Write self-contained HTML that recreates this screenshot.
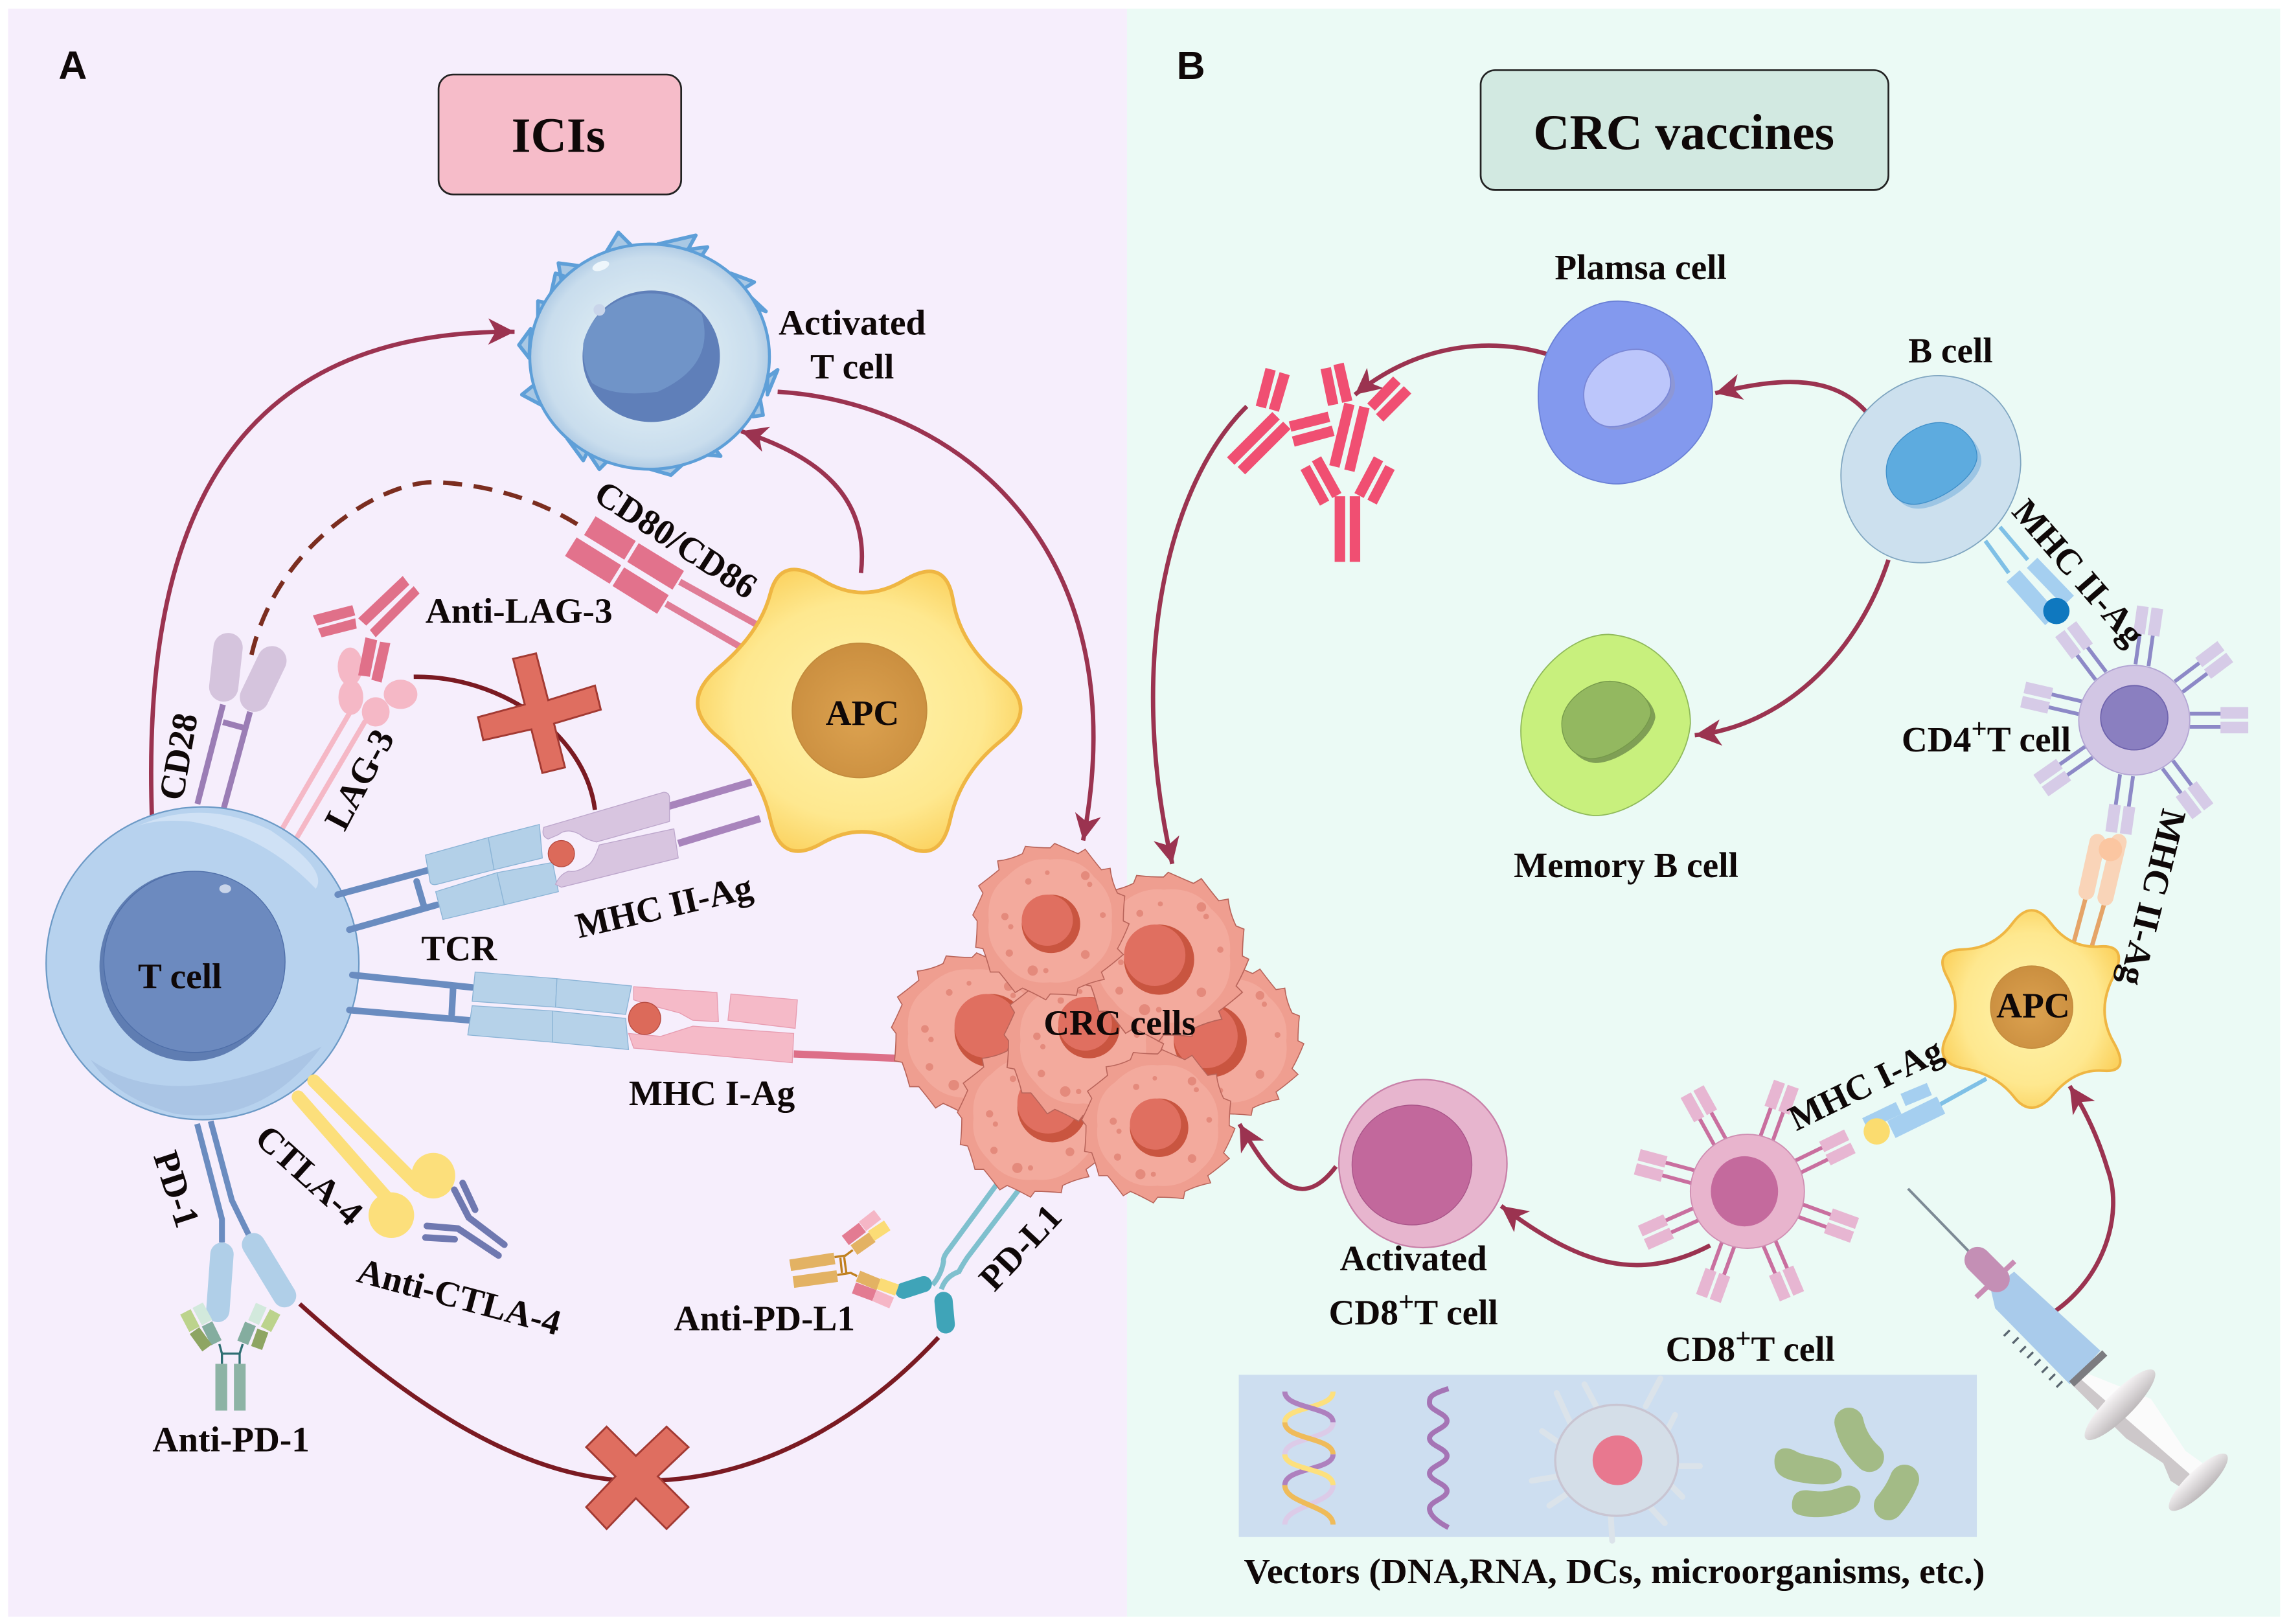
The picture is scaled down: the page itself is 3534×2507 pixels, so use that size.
<!DOCTYPE html>
<html><head><meta charset="utf-8"><title>ICIs and CRC vaccines</title>
<style>
html,body{margin:0;padding:0;background:#fff}
svg{display:block}
text{font-family:"Liberation Serif",serif;font-weight:bold;fill:#0f0808;font-size:24.5px}
</style></head><body>
<svg xmlns="http://www.w3.org/2000/svg" width="3534" height="2507" viewBox="0 0 1566 1111">
<defs>
<marker id="ar" markerUnits="userSpaceOnUse" markerWidth="22" markerHeight="20" refX="18" refY="9" orient="auto"><path d="M18 9L0 0L5 9L0 18Z" fill="#9b3350"/></marker>
<radialGradient id="yel" cx="50%" cy="50%" r="55%"><stop offset="0" stop-color="#fff3ad"/><stop offset=".7" stop-color="#fee88f"/><stop offset="1" stop-color="#fbd25f"/></radialGradient>
<radialGradient id="org" cx="50%" cy="55%" r="60%"><stop offset="0" stop-color="#dca250"/><stop offset="1" stop-color="#c98d3e"/></radialGradient>
<radialGradient id="atc" cx="50%" cy="50%" r="52%"><stop offset=".55" stop-color="#d5e6f1"/><stop offset=".85" stop-color="#c9dded"/><stop offset="1" stop-color="#a9c6e2"/></radialGradient>
<linearGradient id="fl" x1="0" y1="0" x2="0" y2="1"><stop offset="0" stop-color="#f7f5f6"/><stop offset="1" stop-color="#bdb8ba"/></linearGradient>
<g id="crc">
<path d="M50 0L54 2Q50 12 46 19L50 23Q42 30 35 35L37 40Q27 42 19 46L18 51Q9 50 0 50L-3 54Q-12 49 -19 46L-24 49Q-30 41 -35 35L-41 35Q-43 27 -46 19L-51 18Q-50 9 -50 0L-53 -4Q-49 -12 -46 -19L-49 -24Q-41 -30 -35 -35L-36 -41Q-27 -42 -19 -46L-17 -51Q-8 -50 0 -50L3 -53Q12 -49 19 -46L24 -49Q30 -41 35 -35L41 -36Q42 -27 46 -19L51 -17Q50 -8 50 0Z" fill="#ef9e90" stroke="#b8645a" stroke-width=".7"/>
<path d="M42 0Q44 18 32 29Q18 44 0 42Q-20 44 -32 28Q-44 16 -42 0Q-44 -20 -30 -30Q-16 -44 0 -42Q20 -44 30 -30Q44 -18 42 0Z" fill="#f3aa9d"/>
<g fill="#e48a7c"><circle cx="-31" cy="-3" r="2.5"/><circle cx="-27" cy="4" r="1.8"/><circle cx="-12" cy="34" r="3.5"/><circle cx="-3" cy="34" r="1.8"/><circle cx="24" cy="23" r="3"/><circle cx="24" cy="-31" r="3"/><circle cx="27" cy="-25" r="1.8"/><circle cx="-28" cy="22" r="2.5"/><circle cx="-15" cy="-27" r="2.2"/><circle cx="-2" cy="-33" r="1.6"/><circle cx="36" cy="-4" r="2"/></g>
</g>
<g id="nuc"><circle r="20" fill="#c95540"/><circle cx="-2.5" cy="-2.5" r="17.5" fill="#e06f60"/></g>
<g id="arm4"><path d="M38 -4.5H60M38 4.5H60" stroke="#8d89c7" stroke-width="2.6"/><rect x="59" y="-9" width="19" height="8" fill="#d6cbe7"/><rect x="59" y="1" width="19" height="8" fill="#d6cbe7"/></g>
<g id="arm8"><path d="M38 -4.5H60M38 4.5H60" stroke="#c96f9f" stroke-width="2.6"/><rect x="59" y="-9" width="19" height="8" fill="#e7b6d2"/><rect x="59" y="1" width="19" height="8" fill="#e7b6d2"/></g>
</defs>

<rect width="1566" height="1111" fill="#fff"/>
<rect x="5.500" y="6" width="766" height="1100" fill="#f6eefc"/>
<rect x="771" y="6" width="789" height="1100" fill="#ebfaf5"/>

<text x="40" y="54" style="font-family:'Liberation Sans',sans-serif;font-size:27px">A</text>
<text x="805" y="54" style="font-family:'Liberation Sans',sans-serif;font-size:27px">B</text>
<rect x="300" y="51" width="166" height="82" rx="10" fill="#f6bcc9" stroke="#222" stroke-width="1.2"/>
<text x="382" y="104" text-anchor="middle" style="font-size:34px">ICIs</text>
<rect x="1013" y="48" width="279" height="82" rx="10" fill="#d2e9e1" stroke="#222" stroke-width="1.2"/>
<text x="1152" y="102" text-anchor="middle" style="font-size:34.5px">CRC vaccines</text>

<!-- arrows beneath -->
<g fill="none" stroke="#9b3350" stroke-width="3">
<path d="M104 562C98 400 130 225 352 227" marker-end="url(#ar)"/>
<path d="M589 392C595 340 560 312 507 295" marker-end="url(#ar)"/>
<path d="M532 268C650 275 780 370 741 575" marker-end="url(#ar)"/>
<path d="M853 278C800 330 770 450 802 591" marker-end="url(#ar)"/>
<path d="M1061 243C1020 230 970 235 927 270" marker-end="url(#ar)"/>
<path d="M1281 287C1258 255 1218 258 1173.500 269" marker-end="url(#ar)"/>
<path d="M1292 383C1270 450 1218 497 1159.500 503" marker-end="url(#ar)"/>
<path d="M1403 899C1440 875 1453 830 1442 800C1436 780 1427 760 1416 743" marker-end="url(#ar)"/>
<path d="M1170 852C1120 878 1080 865 1027 825" marker-end="url(#ar)"/>
<path d="M914 798C890 830 870 808 848 769" marker-end="url(#ar)"/>
</g>
<path d="M172 448C190 370 265 327 300 330C340 332 375 345 400 362" fill="none" stroke="#7b2d1f" stroke-width="3" stroke-dasharray="13 8"/>
<path d="M283 463C340 462 400 500 407 554" fill="none" stroke="#7a1a22" stroke-width="3"/>
<path d="M205 892C280 960 360 1015 440 1013C530 1013 600 960 642 915" fill="none" stroke="#7a1a22" stroke-width="3"/>

<!-- CD28 -->
<path d="M135 550L152.500 482M152.500 555L171 487M152.500 494L167 498" stroke="#9b7db5" stroke-width="4" fill="none"/>
<path d="M156 443L153 470M186 452L174 477" stroke="#d5c4dd" stroke-width="20" stroke-linecap="round"/>
<!-- LAG-3 -->
<path d="M193 567L239 488M203 573L250 493" stroke="#f5b8c6" stroke-width="3.500" fill="none"/>
<g fill="#f5b8c6"><ellipse cx="239.500" cy="456" rx="8.500" ry="13"/><ellipse cx="240" cy="477" rx="8.500" ry="12"/><ellipse cx="257" cy="487" rx="9.500" ry="10"/><ellipse cx="274" cy="475" rx="11.500" ry="10"/></g>
<g fill="#e07089"><path d="M214 421L241 414L243 421L217 428Z"/><path d="M217.500 430L243 423L244 430L220 436Z"/><path d="M245 423L275.500 394L280 400L250.500 428Z"/><path d="M253 431L283 401L287 406L257 436Z"/><path d="M250 436L258 438L253 463L245 462Z"/><path d="M260 439L267 440L261 467L254 465Z"/></g>
<!-- T cell -->
<ellipse cx="138.500" cy="659" rx="107" ry="107" fill="#b7d2ee" stroke="#6c9ac6" stroke-width="1"/>
<path d="M92 566Q138 545 185 568Q225 595 216 608Q180 570 130 562Q105 560 92 566Z" fill="#cfe1f5"/>
<path d="M62 725Q120 765 220 716Q180 770 120 762Q80 752 62 725Z" fill="#aac5e5"/>
<ellipse cx="130" cy="661" rx="62" ry="65" fill="#5f7db2"/>
<ellipse cx="133" cy="658" rx="62" ry="62" fill="#6c8abf" stroke="#4e6ea8" stroke-width=".6"/>
<ellipse cx="154" cy="608" rx="4" ry="3" fill="#c9d5ea"/>
<!-- TCR upper -->
<path d="M231 612L294 595M239 636L299 619M285 603L290 620" stroke="#6a8cc0" stroke-width="4.500" fill="none" stroke-linecap="round"/>
<g fill="#b3d0e8" stroke="#8bb4d6" stroke-width=".6"><path d="M291 585L334 573L338 595L299 605Q294 606 294 602Z"/><path d="M334 573L369 564L371 587L338 595Z"/><path d="M298 610L340 597L345 619L303 629Z"/><path d="M340 597L378 590L382 610L345 619Z"/></g>
<!-- MHC II left -->
<path d="M456 552L514 535M464 577L520 560" stroke="#a884bc" stroke-width="5" fill="none"/>
<g fill="#d8c5e0" stroke="#bda7cc" stroke-width=".6"><path d="M372 566L454 542Q458 542 458 546L458 562L408 576Q400 574 397 571Q388 566 382 571L375 574Q370 572 372 566Z"/><path d="M380 605L384 607L464 587L461 567L410 578Q406 590 402 592Q395 597 389 596Q383 598 380 605Z"/></g>
<circle cx="384" cy="584" r="9" fill="#dc6a5a" stroke="#b64a40" stroke-width=".6"/>
<!-- TCR lower -->
<path d="M241 667L323 675.500M239 691L321 698M310 675L309 694" stroke="#6a8cc0" stroke-width="4.500" fill="none" stroke-linecap="round"/>
<g fill="#b6d2e9" stroke="#8bb4d6" stroke-width=".6"><path d="M325 665L381 669.500L380 689L323 685Z"/><path d="M381 669.500L432 674.500L428 694L380 689Z"/><path d="M323 688L378 691.600L378 713L320 708Z"/><path d="M378 691.600L428 696.700L430 718L378 713Z"/></g>
<g fill="#f5bac8" stroke="#e79cb0" stroke-width=".6"><path d="M433.500 675L490.500 679L491.500 699L474 698L465 693L446 688L433.500 684Z"/><path d="M500 680L545.500 684L544 703.500L498 698Z"/><path d="M430 707L452 709L474 702L543 707L542 727L433.500 717Z"/></g>
<path d="M543 721L614 724" stroke="#dd6f88" stroke-width="5"/>
<circle cx="441" cy="696.700" r="11" fill="#dc6a5a" stroke="#b64a40" stroke-width=".6"/>
<!-- CD80/86 -->
<path d="M465 398L519 428M455.600 413L510.700 445" stroke="#e07c96" stroke-width="4.500"/>
<path d="M403.500 359.600L431 376.500M433 378L464 397M390.500 374L421 393M423 394.500L453.500 413.500" stroke="#e2728c" stroke-width="15"/>
<!-- APC -->
<path d="M618.500 397Q647 380 652 410.500Q657 441 684.500 463Q712 485 684.500 507Q657 529 650 561Q643 593 616.500 577Q590 561 562 577Q534 593 527 560.500Q520 528 491.500 504.500Q463 481 491.500 457Q520 433 527 406Q534 379 562 396.500Q590 414 618.500 397Z" fill="url(#yel)" stroke="#efb643" stroke-width="2.500"/>
<circle cx="588" cy="486" r="46" fill="url(#org)" stroke="#c28a3c" stroke-width=".8"/>
<!-- Activated T cell -->
<path d="M415 172L423 159L432 168ZM450 167L476 161L470 172ZM468 171L484 169L480 175ZM500 187L516 193L508 198ZM508 198L524 213L515 210ZM525 258L532 253L525 270ZM518 262L522 284L515 285ZM470 310L493 312L485 302ZM445 321L459 325L470 315ZM402 309L410 321L416 315ZM388 300L399 315L402 309ZM367 262L357 270L372 278ZM363 225L355 236L362 245ZM368 222L368 206L378 208ZM376 205L380 187L395 192ZM385 198L382 180L405 183Z" fill="#a9c8e4" stroke="#5e9fd8" stroke-width="2.500" stroke-linejoin="round"/>
<ellipse cx="444.400" cy="244" rx="82" ry="77" fill="url(#atc)" stroke="#5e9fd8" stroke-width="2"/>
<ellipse cx="445.500" cy="243.700" rx="47" ry="45" fill="#5f7fb9"/>
<path d="M399 235A47 43 0 0 1 480 215Q490 250 450 268Q420 272 405 262Q398 250 399 235Z" fill="#7094c8"/>
<circle cx="410" cy="212" r="4" fill="#c9d5ea"/>
<ellipse cx="411" cy="182" rx="6" ry="3" fill="#eef6fb" transform="rotate(-20 411 182)"/>
<!-- X marks -->
<g fill="#df6e60" stroke="#a33a33" stroke-width="1.300">
<path d="M351 450.700L366.700 447L375 479L407 469L411 485.500L379 495L386.500 525L371 528.800L363.500 499L330.600 506.400L327 490.600L359 482Z"/>
<path d="M415 976L435 996L456 976L471 990L450 1010L471 1031L456 1046L435 1025L415 1046L401 1031L421 1010L401 990Z"/>
</g>
<!-- CTLA-4 -->
<path d="M214.700 739.500L286 811M204 750.500L270.900 826.700" stroke="#fcdf7b" stroke-width="9" stroke-linecap="round" fill="none"/>
<ellipse cx="296.400" cy="804.300" rx="15" ry="15.600" fill="#fcdf7b"/><circle cx="267.700" cy="831.300" r="15.600" fill="#fcdf7b"/>
<path d="M316.500 809.300L325 827.600M310.800 813.900L320.700 833L345 851.500M292 838.700L313.300 840.500L341 858.900M291 846.600L311 847.800" fill="none" stroke="#6f78b0" stroke-width="4.500" stroke-linecap="round"/>
<!-- PD-1 -->
<path d="M134.800 768.900L151.800 834V850M144.100 767L158.600 821.200L170.200 845" fill="none" stroke="#6b8cc0" stroke-width="4"/>
<path d="M151.800 858L149 896.500M173.400 851.500L194.600 886.400" stroke="#b0cfe8" stroke-width="16" stroke-linecap="round"/>
<!-- Anti-PD-1 -->
<path d="M150 919.500L151.800 926V933M166 919.500L163.900 926V933M151.800 926H163.900" fill="none" stroke="#2f6f73" stroke-width="1.500"/>
<rect x="147.300" y="933" width="8.100" height="32" fill="#8db3a5"/><rect x="160" y="933" width="8" height="32" fill="#8db3a5"/>
<g stroke-width="8"><path d="M141.600 905.700L148 918.600M171.300 905.700L166 918.600" stroke="#84ad9f"/><path d="M133 910.300L141.600 922.200M179.800 910.300L175.500 922.200" stroke="#8ea563"/><path d="M135.200 892.900L141.600 904.800M178.700 892.900L173.400 904.800" stroke="#d2e9dc"/><path d="M126.800 897.500L133 909.400M188.200 897.500L181.900 909.400" stroke="#bcd38c"/></g>
<!-- PD-L1 -->
<path d="M685 806L649 855Q645 860 645.500 863Q644 872 638 879M697 814L662 860Q658 866 656 870Q647 873 644 882" fill="none" stroke="#7fc0ce" stroke-width="3.500"/>
<path d="M618 883L632 878.500" stroke="#3fa4b8" stroke-width="11" stroke-linecap="round"/>
<path d="M645.500 890L647 906" stroke="#3fa4b8" stroke-width="12.500" stroke-linecap="round"/>
<!-- Anti-PD-L1 -->
<path d="M570.900 860L578.300 859L583.400 855.200M572.800 872.200L582 870.800L586.400 873M574.900 860.400L576 870.800M577.500 860L579 870.800" fill="none" stroke="#c0801f" stroke-width="1.500"/>
<g stroke-width="8"><path d="M540.600 865.600L570.900 860.900M542.800 877.100L572.800 873M584.200 855.200L596.700 846.400M587 873L601.200 878.900" stroke="#e3b263"/><path d="M596 845.600L607 838.300M601.200 878.100L613.700 882.600" stroke="#fbdc76"/><path d="M578.300 848.600L590 839.700M584.200 881.100L598.200 886.300" stroke="#e37b92"/><path d="M590 839L600.400 830.900M598.200 886.300L610 891.400" stroke="#f5b6c6"/></g>

<!-- CRC cells -->
<use href="#crc" transform="translate(838 712) scale(1)"/><use href="#nuc" transform="translate(828 712) scale(1.250)"/>
<use href="#crc" transform="translate(665 707) scale(1.040)"/><use href="#nuc" transform="translate(678 705) scale(1.250)"/>
<use href="#crc" transform="translate(708 765) scale(1)"/><use href="#nuc" transform="translate(720 757.500) scale(1.200)"/>
<use href="#crc" transform="translate(741 712) scale(1.020)"/><use href="#nuc" transform="translate(745 703) scale(1.050)"/>
<use href="#crc" transform="translate(796 654) scale(1.080)"/><use href="#nuc" transform="translate(793 656.500) scale(1.200)"/>
<use href="#crc" transform="translate(718.500 630) scale(1)"/><use href="#nuc" transform="translate(719 632) scale(1)"/>
<use href="#crc" transform="translate(792 770) scale(.98)"/><use href="#nuc" transform="translate(793 771.500) scale(1)"/>

<!-- antibodies red -->
<g stroke="#f04f72" stroke-width="7.200" fill="none">
<path d="M916.700 339.500V384.400M927 339.500V384.400M892.900 319.800L906.200 344.200M900.700 313.900L914.600 339M938.700 343.500L951 319.800M929.800 339L943.100 313.900"/>
<path d="M923.200 276.300L912.900 319.100M933.500 278.500L923.200 322M882.600 291.800L909.200 285.100M884.800 302.100L912.100 294.700M907 251.900L912.100 277M915.800 248.900L921.700 274.800M955.700 260L938 278.500M963 266.700L943.900 285.900"/>
<path d="M873 284.400L842 315.400M880.400 291L849.300 322M869.300 252.600L862.600 278.500M878.900 255.600L871.500 280.700"/>
</g>
<!-- Plasma -->
<g transform="translate(-1.500 0)">
<path d="M1054 275C1052 235 1080 205 1110 206C1150 208 1175 240 1173 275C1170 310 1130 332 1105 331C1075 328 1056 310 1054 275Z" fill="#8399ee" stroke="#6a80d6" stroke-width=".8"/>
<path d="M1088 272C1088 254 1108 240 1126 241C1145 243 1149 260 1147 268C1143 282 1121 294 1106 294C1095 293 1088 284 1088 272Z" fill="#8d97d6"/>
<path d="M1085 270C1085 252 1105 238 1123 239C1142 241 1146 258 1144 266C1140 280 1118 292 1103 292C1092 291 1085 282 1085 270Z" fill="#bcc6fb" stroke="#7a87d6" stroke-width=".8"/>
</g>
<!-- B cell -->
<g transform="translate(-2.500 0)">
<path d="M1262 325C1262 285 1300 256 1330 257C1365 258 1385 285 1385 318C1383 360 1345 385 1317 385C1285 385 1262 360 1262 325Z" fill="#cce0ee" stroke="#7fa5c0" stroke-width=".8"/>
<path d="M1296 325C1296 308 1315 292 1333 292C1351 293 1359 308 1358 317C1355 333 1328 348 1315 348C1303 348 1296 338 1296 325Z" fill="#9cc5e4"/>
<path d="M1293 322C1293 305 1312 289 1330 289C1348 290 1356 305 1355 314C1352 330 1325 345 1312 345C1300 345 1293 335 1293 322Z" fill="#5dabdf" stroke="#3f8fc9" stroke-width=".6"/>
</g>
<!-- Memory -->
<g transform="translate(-1.500 0)">
<path d="M1042 500C1042 465 1075 434 1102 434C1135 436 1158 465 1158 495C1155 530 1120 558 1092 558C1065 555 1042 535 1042 500Z" fill="#c8f07d" stroke="#8fb95a" stroke-width=".8"/>
<path d="M1073 498C1073 483 1091 469 1106 469C1125 470 1134 483 1134 491C1131 506 1108 522 1093 522C1081 521 1073 511 1073 498Z" fill="#7f9f55"/>
<path d="M1070 495C1070 480 1088 466 1103 466C1122 467 1131 480 1131 488C1128 503 1105 519 1090 519C1078 518 1070 508 1070 495Z" fill="#93b860" stroke="#75994a" stroke-width=".6"/>
</g>
<!-- MHC II B side -->
<g transform="translate(-3.700 0)">
<path d="M1362 370L1378 392M1372 360.500L1391 383" stroke="#7fc0e6" stroke-width="2.800"/>
<path d="M1381 394L1407.400 423.700" stroke="#a5cff0" stroke-width="12"/><path d="M1394 385L1419 411" stroke="#a5cff0" stroke-width="10"/>
</g>
<!-- CD4 -->
<g transform="translate(1460.200 492.700)"><use href="#arm4"/><use href="#arm4" transform="rotate(53)"/><use href="#arm4" transform="rotate(98)"/><use href="#arm4" transform="rotate(145)"/><use href="#arm4" transform="rotate(193)"/><use href="#arm4" transform="rotate(233)"/><use href="#arm4" transform="rotate(278)"/><use href="#arm4" transform="rotate(323)"/></g>
<circle cx="1406.900" cy="418" r="9" fill="#0f78bf"/>
<ellipse cx="1460.200" cy="492.700" rx="38" ry="37.500" fill="#d2c6e4" stroke="#b3a5d3" stroke-width=".8"/>
<ellipse cx="1460.200" cy="491" rx="23" ry="22" fill="#8a7fc0" stroke="#6f64ad" stroke-width=".8"/>
<!-- APC to CD4 -->
<path d="M1426.900 614.400L1418.800 644.700M1439.900 617.400L1431.300 646.900" stroke="#e5a468" stroke-width="3"/>
<path d="M1435 576L1427.500 610M1449.500 576L1440.500 614" stroke="#f9d4b8" stroke-width="11" stroke-linecap="round"/>
<circle cx="1443.900" cy="581.200" r="8" fill="#fbc6a1"/>
<!-- small APC -->
<g transform="translate(-4 0)">
<path d="M1407 631.500Q1420 649 1440.500 647.500Q1461 646 1449.500 669Q1438 692 1450 713Q1462 734 1443 732.500Q1424 731 1409 748.500Q1394 766 1382 750.500Q1370 735 1348 731Q1326 727 1336.500 707.500Q1347 688 1336.500 669Q1326 650 1347 649.500Q1368 649 1381 631.500Q1394 614 1407 631.500Z" fill="url(#yel)" stroke="#efb643" stroke-width="1.800"/>
<circle cx="1394" cy="689" r="28.200" fill="url(#org)" stroke="#c28a3c" stroke-width=".6"/>
</g>
<!-- CD8 -->
<g transform="translate(1195.500 815)"><use href="#arm8" transform="rotate(241)"/><use href="#arm8" transform="rotate(290)"/><use href="#arm8" transform="rotate(334)"/><use href="#arm8" transform="rotate(20)"/><use href="#arm8" transform="rotate(67)"/><use href="#arm8" transform="rotate(110)"/><use href="#arm8" transform="rotate(156)"/><use href="#arm8" transform="rotate(195)"/></g>
<circle cx="1195.500" cy="815" r="39" fill="#e8b4cd" stroke="#cf8eb2" stroke-width=".8"/>
<ellipse cx="1193.500" cy="815" rx="23" ry="24" fill="#c46a9d"/>
<!-- MHC I right -->
<g transform="translate(-3 0)">
<path d="M1362 738L1329.500 756" stroke="#7fc0e6" stroke-width="2.800"/>
<path d="M1297 772.700L1331 756" stroke="#a5cff0" stroke-width="13"/><path d="M1305 752.500L1323 745M1279 769L1302 758" stroke="#a5cff0" stroke-width="9"/>
<circle cx="1287" cy="774" r="9" fill="#fbdc6f"/>
</g>
<!-- Activated CD8 -->
<circle cx="973.500" cy="796" r="57.500" fill="#e7b5ce" stroke="#c880a8" stroke-width="1"/>
<circle cx="966" cy="797" r="41" fill="#c2689c" stroke="#a85488" stroke-width=".6"/>

<!-- Vectors -->
<rect x="847.500" y="940.500" width="505" height="111" fill="#cddef0"/>
<g fill="none" stroke-width="3.500">
<path d="M912 952C912 964 879 962 879 973" stroke="#fde07d"/>
<path d="M879 952C879 964 912 962 912 973" stroke="#ae80be"/>
<path d="M912 973C912 985 879 983 879 995" stroke="#dccbe8"/>
<path d="M879 973C879 985 912 983 912 995" stroke="#efbb5a"/>
<path d="M912 995C912 1006 879 1004 879 1016" stroke="#ae80be"/>
<path d="M879 995C879 1006 912 1004 912 1016" stroke="#fde07d"/>
<path d="M912 1016C912 1029 879 1030 879 1043" stroke="#dccbe8"/>
<path d="M879 1016C879 1029 912 1030 912 1043" stroke="#efbb5a"/>
</g>
<path d="M991 950C978 954 978 956 978 960C978 965 990 967 990 972C990 977 978 979 978 984C978 989 990 991 990 996C990 1001 978 1003 978 1008C978 1013 990 1015 990 1020C990 1025 978 1027 978 1032C978 1037 985 1042 991 1045" fill="none" stroke="#a574b5" stroke-width="3.500"/>
<g fill="none" stroke="#dbe3ea" stroke-width="4" stroke-linecap="round"><path d="M1126 962L1136 943M1092 962L1084 947M1075 975L1065 953M1068 988L1055 979M1066 1010L1048 1013M1072 1022L1060 1030M1102 1036L1103 1054M1128 1030L1139 1042M1142 1015L1151 1024M1146 1003L1163 1003M1140 980L1146 968"/></g>
<ellipse cx="1106" cy="999" rx="42" ry="38" fill="#d4dee8" stroke="#c9c5d2" stroke-width="1.500"/>
<ellipse cx="1106.600" cy="999" rx="17" ry="17" fill="#e8788f"/>
<g fill="none" stroke="#a3bb86" stroke-linecap="round" stroke-width="20"><path d="M1265 973Q1268 987 1279 997"/><path d="M1303 1012Q1299 1022 1292 1030"/></g>
<path d="M1214 1000C1214 990 1222 989 1229 993C1238 998 1260 996 1260 1008C1260 1016 1248 1016 1238 1015C1222 1013 1214 1010 1214 1000Z" fill="#a3bb86"/>
<path d="M1226 1030C1226 1022 1230 1018 1240 1020C1255 1022 1262 1014 1268 1017C1275 1020 1274 1028 1268 1032C1258 1038 1240 1039 1234 1037C1228 1036 1226 1034 1226 1030Z" fill="#a3bb86"/>
<text x="851" y="1083" textLength="507" lengthAdjust="spacingAndGlyphs">Vectors (DNA,RNA, DCs, microorganisms, etc.)</text>

<!-- Syringe -->
<path d="M1305.400 813.200L1352 861.200" stroke="#7d8a95" stroke-width="1.800"/>
<path d="M1362 882L1378 870L1437 924L1416 947L1365 895Z" fill="#a9cbeb"/>
<path d="M1429 940L1471.600 957L1495.300 992.600L1507 1001L1495.300 1019.700L1485 1013L1480 1001L1454.600 984L1417.300 947Z" fill="#fbfbfb"/>
<path d="M1423 943L1500 1010L1495.300 1019.700L1485 1013L1480 1001L1454.600 984L1417.300 947Z" fill="#cdc8ca"/>
<path d="M1417.300 946.800L1440 925.600" stroke="#7c7c80" stroke-width="5"/>
<path d="M1352 887.500L1378.300 862.900" stroke="#c98cb4" stroke-width="3.500"/>
<path d="M1353 862L1366 875" stroke="#c48fb5" stroke-width="18" stroke-linecap="round"/>
<ellipse cx="1450.400" cy="961" rx="33" ry="9" fill="url(#fl)" transform="rotate(-45 1450.400 961)"/>
<ellipse cx="1504" cy="1014" rx="27" ry="8" fill="url(#fl)" transform="rotate(-44 1504 1014)"/>
<path d="M1371 914l4-4M1377 919l4-4M1382 925l4-4M1387 929l4-4M1392 934l4-4M1397 939l4-4M1402 944l4-4M1407 949l4-4" stroke="#5a6670" stroke-width="1.500"/>

<!-- Labels -->
<text x="583" y="229" text-anchor="middle">Activated</text>
<text x="583" y="259" text-anchor="middle">T cell</text>
<text transform="translate(458 376) rotate(33)" text-anchor="middle">CD80/CD86</text>
<text x="291" y="426" textLength="128" lengthAdjust="spacingAndGlyphs">Anti-LAG-3</text>
<text transform="translate(130 519) rotate(-80)" text-anchor="middle">CD28</text>
<text transform="translate(253 537) rotate(-62)" text-anchor="middle">LAG-3</text>
<text x="590" y="496" text-anchor="middle">APC</text>
<text x="123" y="676" text-anchor="middle">T cell</text>
<text x="314" y="657" text-anchor="middle">TCR</text>
<text transform="translate(456 628) rotate(-13)" text-anchor="middle">MHC II-Ag</text>
<text x="487" y="756" text-anchor="middle">MHC I-Ag</text>
<text x="766" y="708" text-anchor="middle">CRC cells</text>
<text transform="translate(704 859) rotate(-47)" text-anchor="middle">PD-L1</text>
<text x="523" y="910" text-anchor="middle">Anti-PD-L1</text>
<text transform="translate(206 810) rotate(42)" text-anchor="middle">CTLA-4</text>
<text transform="translate(312 895) rotate(15)" text-anchor="middle">Anti-CTLA-4</text>
<text transform="translate(113 816) rotate(72)" text-anchor="middle">PD-1</text>
<text x="158" y="993" text-anchor="middle">Anti-PD-1</text>
<text x="1122.500" y="191" text-anchor="middle">Plamsa cell</text>
<text x="1334.500" y="248" text-anchor="middle">B cell</text>
<text x="1112.500" y="600" text-anchor="middle">Memory B cell</text>
<text x="1301" y="514">CD4<tspan dy="-9" style="font-size:19px">+</tspan><tspan dy="9">T cell</tspan></text>
<text transform="translate(1416 397) rotate(49)" text-anchor="middle">MHC II-Ag</text>
<text transform="translate(1465 612) rotate(104)" text-anchor="middle">MHC II-Ag</text>
<text x="1391" y="696" text-anchor="middle">APC</text>
<text transform="translate(1280 749) rotate(-26)" text-anchor="middle">MHC I-Ag</text>
<text x="967" y="869" text-anchor="middle">Activated</text>
<text x="967" y="906" text-anchor="middle">CD8<tspan dy="-9" style="font-size:19px">+</tspan><tspan dy="9">T cell</tspan></text>
<text x="1197.500" y="931" text-anchor="middle">CD8<tspan dy="-9" style="font-size:19px">+</tspan><tspan dy="9">T cell</tspan></text>
</svg>
</body></html>
